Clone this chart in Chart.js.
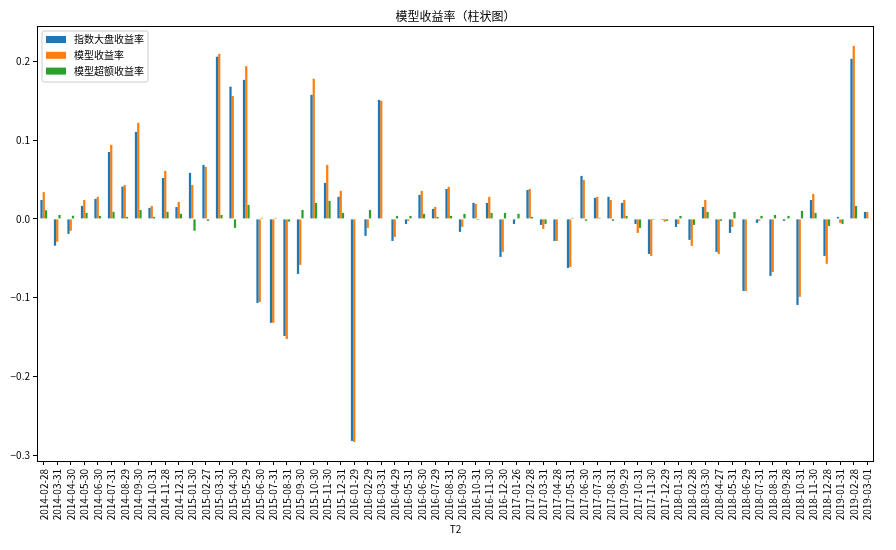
<!DOCTYPE html>
<html>
<head>
<meta charset="utf-8">
<script src="https://cdn.jsdelivr.net/npm/chart.js@4/dist/chart.umd.min.js"></script>
<style>
    html, body { margin: 0; padding: 0; background: #fff; }
</style>
</head>
<body>
<canvas id="chart" width="896" height="550"></canvas>
<script>
    "use strict";

    // T2 dates (x categories)
    const dates = [
        '2014-02-28', '2014-03-31', '2014-04-30', '2014-05-30', '2014-06-30', '2014-07-31', '2014-08-29',
        '2014-09-30', '2014-10-31', '2014-11-28', '2014-12-31', '2015-01-30', '2015-02-27', '2015-03-31',
        '2015-04-30', '2015-05-29', '2015-06-30', '2015-07-31', '2015-08-31', '2015-09-30', '2015-10-30',
        '2015-11-30', '2015-12-31', '2016-01-29', '2016-02-29', '2016-03-31', '2016-04-29', '2016-05-31',
        '2016-06-30', '2016-07-29', '2016-08-31', '2016-09-30', '2016-10-31', '2016-11-30', '2016-12-30',
        '2017-01-26', '2017-02-28', '2017-03-31', '2017-04-28', '2017-05-31', '2017-06-30', '2017-07-31',
        '2017-08-31', '2017-09-29', '2017-10-31', '2017-11-30', '2017-12-29', '2018-01-31', '2018-02-28',
        '2018-03-30', '2018-04-27', '2018-05-31', '2018-06-29', '2018-07-31', '2018-08-31', '2018-09-28',
        '2018-10-31', '2018-11-30', '2018-12-28', '2019-01-31', '2019-02-28', '2019-03-01'
    ];

    // 指数大盘收益率
    const indexReturn = [
        0.024, -0.034, -0.019, 0.0165, 0.0254, 0.085, 0.041, 0.1105, 0.014, 0.052, 0.015, 0.0585, 0.0686,
        0.206, 0.168, 0.1766, -0.1067, -0.132, -0.1487, -0.0699, 0.1576, 0.0457, 0.028, -0.282, -0.0216,
        0.1512, -0.028, -0.0064, 0.0305, 0.0127, 0.038, -0.0165, 0.0203, 0.0203, -0.0483, -0.0064, 0.0368,
        -0.0076, -0.028, -0.0623, 0.0546, 0.0267, 0.028, 0.0203, -0.0064, -0.0445, -0.0013, -0.0102,
        -0.0267, 0.0152, -0.0419, -0.0178, -0.0915, -0.0051, -0.0724, -0.0025, -0.1093, 0.024, -0.047,
        0.0025, 0.2033, 0.0089
    ];

    // 模型收益率
    const modelReturn = [
        0.034, -0.029, -0.015, 0.024, 0.028, 0.094, 0.043, 0.122, 0.0165, 0.061, 0.0216, 0.043, 0.066,
        0.2097, 0.156, 0.194, -0.1055, -0.132, -0.1525, -0.0584, 0.178, 0.0686, 0.0356, -0.2834, -0.0114,
        0.150, -0.0229, -0.0025, 0.0356, 0.0152, 0.0407, -0.0102, 0.019, 0.028, -0.0419, -0.0005, 0.038,
        -0.0127, -0.028, -0.061, 0.0496, 0.028, 0.024, 0.024, -0.0178, -0.047, -0.0035, -0.0064,
        -0.0343, 0.024, -0.0445, -0.0102, -0.0915, -0.0025, -0.0674, -0.0005, -0.099, 0.0318, -0.057,
        -0.0051, 0.2198, 0.0089
    ];

    // 模型超额收益率
    const excessReturn = [
        0.011, 0.005, 0.004, 0.0076, 0.0038, 0.009, 0.0025, 0.0114, 0.0025, 0.009, 0.0064, -0.015, -0.0025,
        0.005, -0.0114, 0.0178, 0.0013, 0.0013, -0.0034, 0.0114, 0.0203, 0.0229, 0.0076, -0.0005, 0.0114,
        -0.0005, 0.0038, 0.0038, 0.0064, 0.0025, 0.0038, 0.0064, -0.0013, 0.0076, 0.0076, 0.0064, 0.0025,
        -0.0064, 0.0005, 0.0013, -0.0025, 0.0013, -0.0025, 0.0038, -0.0114, -0.0013, -0.0025, 0.0038,
        -0.0076, 0.0089, -0.0025, 0.0089, 0.0005, 0.0038, 0.005, 0.0038, 0.0102, 0.0076, -0.0089,
        -0.0064, 0.0165, 0.0005
    ];

    const yTicks = [-0.3, -0.2, -0.1, 0.0, 0.1, 0.2];

    const FONT = '"Noto Sans CJK SC", "DejaVu Sans", sans-serif';

    // title, in-axes legend, frame and x-axis name (matplotlib look)
    const decorations = {
        id: 'decorations',
        afterDraw: function (chart) {
            const ctx = chart.ctx;
            const area = chart.chartArea;
            ctx.save();

            ctx.strokeStyle = '#000';
            ctx.lineWidth = 1;
            ctx.strokeRect(area.left + 0.5, area.top + 0.5, area.right - area.left - 1, area.bottom - area.top);

            ctx.fillStyle = '#000';
            ctx.textAlign = 'center';
            ctx.textBaseline = 'middle';
            ctx.font = '12px ' + FONT;
            ctx.fillText('模型收益率（柱状图）', (area.left + area.right) / 2, 16);

            ctx.font = '10px ' + FONT;
            ctx.fillText('T2', (area.left + area.right) / 2, 529);

            // legend box
            const bx = 42, by = 31, bw = 106, bh = 51, r = 2;
            ctx.beginPath();
            ctx.moveTo(bx + r, by);
            ctx.arcTo(bx + bw, by, bx + bw, by + bh, r);
            ctx.arcTo(bx + bw, by + bh, bx, by + bh, r);
            ctx.arcTo(bx, by + bh, bx, by, r);
            ctx.arcTo(bx, by, bx + bw, by, r);
            ctx.closePath();
            ctx.fillStyle = 'rgba(255,255,255,0.8)';
            ctx.fill();
            ctx.strokeStyle = '#cccccc';
            ctx.stroke();

            ctx.textAlign = 'left';
            chart.data.datasets.forEach(function (ds, i) {
                const cy = 39.5 + i * 15.8;
                ctx.fillStyle = ds.backgroundColor;
                ctx.fillRect(46, cy - 3.5, 20, 7);
                ctx.fillStyle = '#000';
                ctx.fillText(ds.label, 74, cy);
            });
            ctx.restore();
        }
    };

    const ctx = document.getElementById('chart').getContext('2d');

    new Chart(ctx, {
        type: 'bar',
        data: {
            labels: dates,
            datasets: [
                { label: '指数大盘收益率', data: indexReturn, backgroundColor: '#1f77b4' },
                { label: '模型收益率', data: modelReturn, backgroundColor: '#ff7f0e' },
                { label: '模型超额收益率', data: excessReturn, backgroundColor: '#2ca02c' }
            ]
        },
        options: {
            responsive: false,
            animation: false,
            devicePixelRatio: 1,
            categoryPercentage: 0.5,
            barPercentage: 1.0,
            layout: { padding: { top: 26, right: 22, left: 0, bottom: 0 } },
            plugins: {
                legend: { display: false },
                title: { display: false },
                tooltip: { enabled: false }
            },
            scales: {
                x: {
                    offset: true,
                    grid: {
                        offset: false,
                        drawOnChartArea: false,
                        drawTicks: true,
                        tickLength: 4,
                        color: '#000'
                    },
                    border: { display: false },
                    ticks: {
                        autoSkip: false,
                        maxRotation: 90,
                        minRotation: 90,
                        padding: 4,
                        color: '#000',
                        font: { family: FONT, size: 10 }
                    },
                    afterFit: function (scale) { scale.height = 89; }
                },
                y: {
                    min: -0.3075,
                    max: 0.245,
                    grid: {
                        drawOnChartArea: false,
                        drawTicks: true,
                        tickLength: 4,
                        color: '#000'
                    },
                    border: { display: false },
                    afterBuildTicks: function (scale) {
                        scale.ticks = yTicks.map(function (v) { return { value: v }; });
                    },
                    ticks: {
                        padding: 3,
                        color: '#000',
                        font: { family: FONT, size: 10 },
                        callback: function (v) {
                            return (v < 0 ? '\u2212' : '') + Math.abs(v).toFixed(1);
                        }
                    },
                    afterFit: function (scale) { scale.width = 37; }
                }
            }
        },
        plugins: [decorations]
    });
</script>
</body>
</html>
